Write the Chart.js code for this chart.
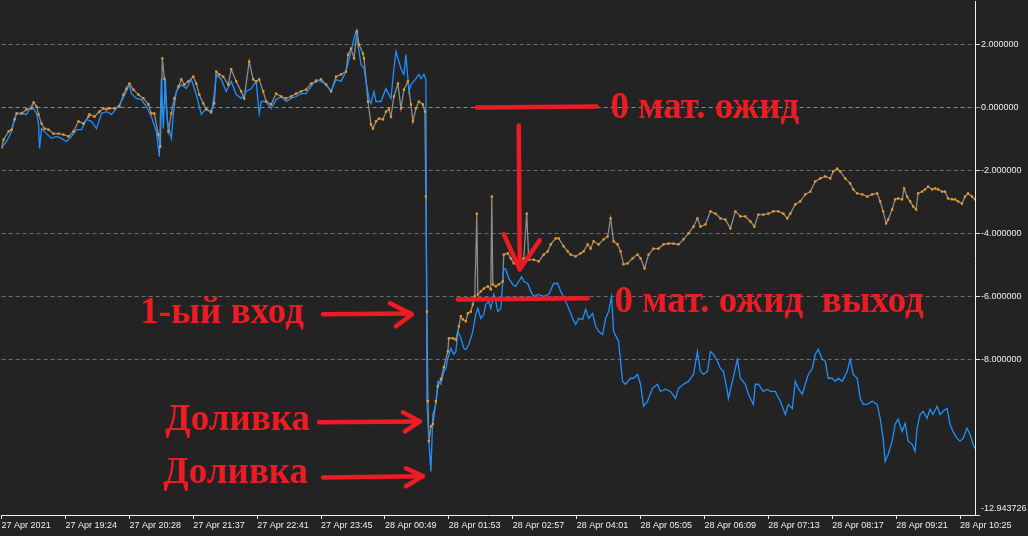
<!DOCTYPE html>
<html>
<head>
<meta charset="utf-8">
<script src="https://cdn.jsdelivr.net/npm/chart.js@4.4.1/dist/chart.umd.min.js"></script>
<style>
  html, body { margin: 0; padding: 0; background: #232323; overflow: hidden; }
  canvas { display: block; }
</style>
</head>
<body>
<canvas id="chart" width="1028" height="536"></canvas>
<script>
// x axis is the bar number (M1 bars, one per pixel in the terminal)
const xTickBars = [0, 64, 128, 192, 256, 320, 384, 448, 512, 576, 640, 704, 768, 832, 896, 960];
const xTickLabels = ['27 Apr 2021', '27 Apr 19:24', '27 Apr 20:28', '27 Apr 21:37', '27 Apr 22:41',
  '27 Apr 23:45', '28 Apr 00:49', '28 Apr 01:53', '28 Apr 02:57', '28 Apr 04:01', '28 Apr 05:05',
  '28 Apr 06:09', '28 Apr 07:13', '28 Apr 08:17', '28 Apr 09:21', '28 Apr 10:25'];
const yTickValues = [2, 0, -2, -4, -6, -8];
const yMin = -12.943726;
const yMax = 3.364;
const lastBar = 975;

// blue line
const blueBar = [0,5,10,13,15,20,25,30,35,37,38,40,45,50,55,60,65,70,75,80,85,90,95,100,105,110,115,120,125,128,
  130,135,140,145,150,155,158,160,162,164,166,170,172,175,180,185,190,195,200,205,210,213,215,220,225,230,235,240,
  245,250,255,258,260,265,270,275,280,285,290,295,300,305,310,315,320,325,330,335,340,345,350,353,355,358,360,363,
  365,368,370,373,375,380,385,390,393,395,400,403,405,408,410,415,418,420,423,425,426,428,430,432,435,437,440,443,
  445,447,450,453,455,457,460,463,465,468,470,472,475,477,480,483,485,488,490,493,495,497,500,502,503,505,508,512,
  515,518,521,523,527,530,533,538,543,548,553,557,560,565,568,572,575,578,582,585,588,592,595,598,602,605,608,611,
  613,618,622,625,630,633,637,640,643,647,652,657,660,665,670,675,678,683,688,693,697,700,703,707,710,713,717,720,
  723,727,728,732,737,740,745,748,753,755,758,763,767,770,775,780,785,788,792,795,798,802,805,808,812,815,818,822,
  825,828,832,835,838,842,847,850,853,857,860,863,867,872,877,880,883,885,888,892,895,898,902,905,908,912,915,917,
  920,923,927,930,933,937,940,943,947,950,953,957,960,963,967,970,973,975];
const blueVal = [-1.27,-1.08,-0.76,-0.35,-0.19,-0.19,-0.22,0.06,-0.19,-0.51,-1.30,-0.67,-0.83,-0.98,-0.92,-0.98,
  -1.08,-0.92,-0.70,-0.70,-0.38,-0.44,-0.67,-0.19,-0.13,-0.22,-0.03,0.19,0.51,0.73,
  0.44,0.29,0.25,0.03,-0.29,-0.76,-1.56,0.92,-0.67,0.92,-0.44,-0.98,-0.22,0.51,0.73,0.60,0.89,0.41,-0.22,-0.03,
  -0.19,0.41,1.05,0.89,0.51,0.83,0.41,0.29,
  0.51,0.60,0.83,-0.19,0.19,0.19,-0.03,0.25,0.35,0.19,0.29,0.35,0.44,0.44,0.67,0.89,0.83,0.73,0.51,0.89,0.83,1.14,
  1.78,2.19,2.41,1.78,1.37,1.24,
  0.83,0.29,0.13,0.51,0.19,0.19,0.60,0.29,1.24,1.78,1.24,1.05,1.68,0.51,0.73,0.92,1.05,0.92,1.05,0.89,-9.33,-10.60,
  -11.56,-9.75,-9.43,-8.70,-8.79,-8.38,
  -8.29,-7.97,-7.65,-7.84,-7.75,-7.11,-7.33,-7.65,-7.68,-7.52,-7.33,-7.11,-6.57,-6.38,-6.70,-6.57,-6.25,-6.16,-6.38,
  -5.94,-6.16,-6.48,-6.38,-5.52,-5.11,-5.14,-5.43,-5.62,
  -5.68,-5.52,-5.37,-5.52,-5.59,-5.84,-6.00,-5.94,-6.00,-5.94,-5.59,-5.59,-5.84,-6.16,-6.38,-6.70,-6.89,-6.70,-6.73,
  -6.41,-6.70,-6.54,-6.95,-7.11,-7.21,-6.70,-6.48,-6.00,
  -7.11,-7.43,-8.70,-8.79,-8.60,-8.60,-8.48,-8.79,-9.49,-9.33,-8.92,-8.79,-9.02,-8.95,-9.02,-9.24,-8.92,-8.79,-8.70,
  -8.48,-7.75,-8.38,-8.48,-8.38,-7.75,-7.84,-8.06,-8.29,
  -8.38,-9.02,-9.24,-8.70,-8.00,-8.60,-8.79,-9.11,-9.43,-8.79,-8.79,-9.02,-8.95,-9.02,-9.02,-9.33,-9.75,-9.43,-9.56,
  -8.70,-8.92,-9.11,-8.79,-8.48,-8.29,-7.84,-7.68,-8.00,
  -8.06,-8.60,-8.60,-8.70,-8.60,-8.70,-8.38,-8.00,-8.48,-8.60,-9.24,-9.43,-9.43,-9.33,-9.43,-9.87,-10.51,-11.24,
  -11.02,-10.60,-10.06,-9.90,-10.29,-10.03,-10.60,-10.70,-10.92,-10.19,
  -9.75,-9.65,-9.87,-9.59,-9.75,-9.49,-9.75,-9.65,-9.56,-10.06,-10.29,-10.51,-10.60,-10.51,-10.19,-10.38,-10.70,-10.83];

// gray line (orange marks on every reading)
const grayBar = [0,2,7,10,13,15,20,25,30,32,35,37,40,43,47,52,57,62,67,72,77,82,87,88,93,98,102,105,108,113,118,122,
  125,128,132,137,142,147,150,153,157,159,161,163,167,170,173,177,180,183,187,192,195,198,202,205,210,213,215,218,
  222,227,230,235,240,243,248,252,255,258,262,265,270,275,280,285,290,295,300,305,310,315,320,325,330,335,340,345,
  347,350,353,356,358,362,363,367,370,372,375,378,382,385,388,390,393,397,400,403,407,410,412,415,418,422,424,425,
  426,427,428,430,432,435,437,440,443,447,448,452,455,458,460,462,465,467,470,472,474,476,477,480,483,487,490,491,
  492,495,498,502,503,507,510,513,518,523,526,528,533,538,543,547,550,555,558,563,567,570,575,580,583,587,590,593,
  598,603,607,610,613,617,620,623,627,632,637,640,644,648,653,658,663,668,673,678,683,688,693,697,700,705,710,715,
  720,725,730,735,740,745,750,754,758,763,768,773,778,783,787,790,795,800,805,810,815,820,825,830,833,837,840,845,
  850,853,857,862,867,872,877,880,883,886,888,892,895,898,902,904,907,910,913,916,918,922,925,928,932,935,938,942,
  945,948,952,955,958,962,965,968,972,975];
const grayVal = [-1.27,-1.02,-0.76,-0.70,-0.38,-0.19,-0.19,-0.06,-0.03,0.16,0.03,-0.22,-0.51,-0.67,-0.70,-0.83,-0.83,
  -0.86,-0.92,-0.76,-0.44,-0.51,-0.29,-0.22,-0.29,-0.13,-0.03,-0.06,-0.03,-0.03,0.03,0.41,
  0.60,0.76,0.57,0.41,0.29,0.10,-0.19,-0.19,-0.86,-1.24,1.56,0.92,-0.76,-0.19,0.29,0.67,0.89,0.73,0.83,0.98,0.76,
  0.41,0.13,-0.06,-0.13,0.13,1.14,1.05,
  0.98,0.73,1.21,0.83,0.51,0.29,1.46,0.89,0.83,0.89,0.51,0.19,0.10,0.44,0.35,0.29,0.35,0.44,0.51,0.57,0.76,0.83,
  0.89,0.73,0.51,0.98,1.05,1.14,
  1.68,1.87,1.56,2.41,2.00,1.71,1.56,0.19,-0.54,-0.67,-0.44,-0.35,-0.38,-0.13,-0.06,-0.29,0.35,0.76,-0.03,0.57,
  0.83,0.10,-0.44,-0.03,0.19,0.10,-0.13,-2.83,
  -6.48,-9.33,-10.60,-10.13,-10.06,-9.33,-8.86,-8.63,-8.25,-7.75,-7.33,-7.33,-7.37,-6.95,-6.63,-6.73,-6.79,-6.54,
  -6.48,-6.25,-6.00,-3.37,-5.94,-5.84,-5.75,-5.68,-5.78,-2.83,
  -5.62,-5.68,-5.62,-5.52,-4.67,-4.63,-4.79,-4.95,-4.95,-4.79,-3.37,-4.83,-4.83,-4.89,-4.67,-4.57,-4.35,-4.16,
  -4.16,-4.41,-4.57,-4.67,-4.73,-4.63,-4.57,-4.35,-4.48,-4.25,
  -4.35,-4.19,-4.10,-3.52,-4.25,-4.35,-4.57,-4.98,-4.95,-4.79,-4.67,-4.79,-5.11,-4.67,-4.48,-4.48,-4.35,-4.32,
  -4.32,-4.35,-4.19,-4.00,-3.78,-3.52,-3.78,-3.71,-3.30,-3.37,
  -3.52,-3.56,-3.84,-3.30,-3.46,-3.46,-3.62,-3.78,-3.40,-3.40,-3.37,-3.30,-3.30,-3.37,-3.52,-3.37,-3.08,-2.98,
  -2.76,-2.67,-2.35,-2.25,-2.19,-2.25,-2.03,-1.94,-2.03,-2.25,
  -2.41,-2.60,-2.73,-2.76,-2.83,-2.76,-2.73,-2.98,-3.30,-3.68,-3.56,-3.24,-2.92,-2.89,-2.92,-2.57,-2.83,-2.98,
  -3.14,-3.24,-2.73,-2.67,-2.60,-2.51,-2.60,-2.57,-2.60,-2.67,
  -2.67,-2.89,-2.92,-2.92,-2.98,-3.05,-2.83,-2.73,-2.83,-2.92];

const bluePts = blueBar.map((b, i) => ({ x: b, y: blueVal[i] }));
const grayPts = grayBar.map((b, i) => ({ x: b, y: grayVal[i] }));

// hand drawn red notes, given as [bar, value]
const RED = '#ec1c24';
const notePaths = [
  [[476, 0.0], [596, 0.03]],
  [[518, -0.57], [519, -5.14]],
  [[503, -4.03], [519, -5.14], [539, -4.22]],
  [[457, -6.10], [587, -6.06]],
  [[322, -6.57], [410, -6.54]],
  [[389, -6.22], [411, -6.57], [395, -6.95]],
  [[318, -10.00], [419, -9.97]],
  [[402, -9.68], [419, -9.97], [404, -10.29]],
  [[322, -11.75], [422, -11.71]],
  [[405, -11.46], [422, -11.71], [405, -12.03]]
];
const noteTexts = [
  ['0 мат. ожид', 610, -0.32],
  ['0 мат. ожид  выход', 614, -6.48],
  ['1-ый вход', 139, -6.86],
  ['Доливка', 164, -10.25],
  ['Доливка', 162, -11.94]
];

const notesPlugin = {
  id: 'notes',
  afterDraw(chart) {
    const ctx = chart.ctx;
    const xs = chart.scales.x, ys = chart.scales.y;
    ctx.save();
    // bottom value of the price scale sits just above the axis corner
    ctx.fillStyle = '#f0f0f0';
    ctx.font = '9px "Liberation Sans"';
    ctx.textBaseline = 'middle';
    ctx.textAlign = 'left';
    ctx.fillText(yMin.toFixed(6), chart.chartArea.right + 6, chart.chartArea.bottom - 6);

    ctx.strokeStyle = RED;
    ctx.lineWidth = 4.5;
    ctx.lineCap = 'round';
    ctx.lineJoin = 'round';
    notePaths.forEach(p => {
      ctx.beginPath();
      p.forEach((pt, i) => {
        const px = xs.getPixelForValue(pt[0]), py = ys.getPixelForValue(pt[1]);
        if (i === 0) ctx.moveTo(px, py); else ctx.lineTo(px, py);
      });
      ctx.stroke();
    });
    ctx.fillStyle = RED;
    ctx.font = 'bold 37px "Liberation Serif"';
    ctx.textBaseline = 'alphabetic';
    noteTexts.forEach(t => {
      ctx.fillText(t[0], xs.getPixelForValue(t[1]), ys.getPixelForValue(t[2]));
    });
    ctx.restore();
  }
};

new Chart(document.getElementById('chart'), {
  type: 'line',
  data: {
    datasets: [
      { label: 'marks', data: grayPts, showLine: false, pointStyle: 'rect', pointRadius: 1.6,
        pointBackgroundColor: '#ff9a16', pointBorderWidth: 0, pointHoverRadius: 0 },
      { label: 'blue', data: bluePts, borderColor: '#1e90ff', borderWidth: 1.3, pointRadius: 0 },
      { label: 'gray', data: grayPts, borderColor: '#8c8c8c', borderWidth: 1.3, pointRadius: 0 }
    ]
  },
  options: {
    responsive: false,
    animation: false,
    devicePixelRatio: 1,
    layout: { padding: 0 },
    plugins: { legend: { display: false }, tooltip: { enabled: false } },
    scales: {
      x: {
        type: 'linear',
        min: 0,
        max: lastBar,
        afterFit: s => { s.height = 21; s.paddingLeft = 0; s.paddingRight = 0; },
        afterBuildTicks: s => { s.ticks = xTickBars.map(v => ({ value: v })); },
        grid: { drawOnChartArea: false, drawTicks: true, tickLength: 4, tickColor: '#f0f0f0' },
        border: { display: true, color: '#f0f0f0', width: 1 },
        ticks: {
          autoSkip: false, maxRotation: 0, minRotation: 0, align: 'start', padding: 1,
          color: '#f0f0f0', font: { family: 'Liberation Sans', size: 9 },
          callback: v => xTickLabels[xTickBars.indexOf(v)]
        }
      },
      y: {
        position: 'right',
        min: yMin,
        max: yMax,
        afterFit: s => { s.width = 53; s.paddingTop = 0; s.paddingBottom = 0; },
        afterBuildTicks: s => { s.ticks = [yMin].concat(yTickValues.slice().reverse()).map(v => ({ value: v })); },
        grid: {
          color: c => (c.tick && c.tick.value === yMin) ? 'rgba(0,0,0,0)' : (c.tick && c.tick.value === 0 ? '#7f8fa0' : '#6e6e6e'),
          tickColor: c => (c.tick && c.tick.value === 0) ? '#7f8fa0' : '#e0e0e0',
          tickLength: 5, tickBorderDash: []
        },
        border: { display: true, color: '#f0f0f0', width: 1, dash: [4, 3] },
        ticks: {
          padding: 1, color: '#f0f0f0', font: { family: 'Liberation Sans', size: 9 },
          callback: v => v === yMin ? '' : v.toFixed(6)
        }
      }
    }
  },
  plugins: [notesPlugin]
});
</script>
</body>
</html>
